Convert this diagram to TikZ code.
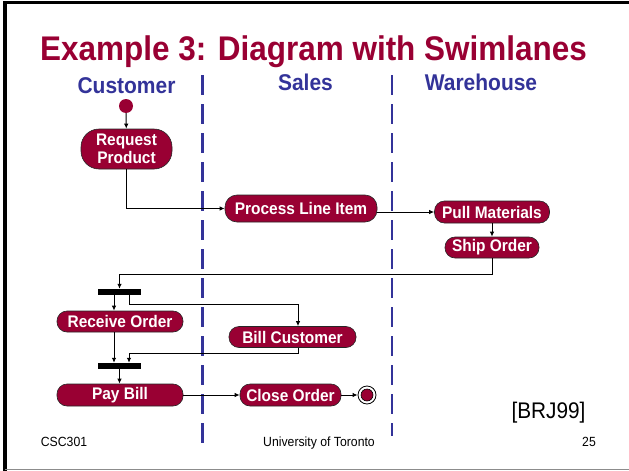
\documentclass[tikz,border=0pt]{standalone}
\usepackage{fontspec}
\setmainfont[FakeStretch=0.92]{Liberation Sans}
\usetikzlibrary{arrows.meta}
\definecolor{slidered}{RGB}{153,0,51}
\definecolor{laneblue}{RGB}{51,51,153}
\tikzset{
  activity/.style={draw=black!85, line width=.6pt, fill=slidered, text=white,
    font=\fontsize{16.8}{18}\selectfont\bfseries, inner sep=0pt,
    rounded corners=10pt, minimum height=22pt},
  syncbar/.style={fill=black, minimum width=43pt, minimum height=6pt, inner sep=0pt},
  flow/.style={line width=1pt, -{Latex[length=5pt,width=4.5pt]}},
  lane/.style={laneblue, line width=2.6pt, dash pattern=on 20pt off 9pt},
  lanehead/.style={laneblue, anchor=base, font=\fontsize{22.8}{24}\selectfont\bfseries},
  footer/.style={anchor=base, font=\fontsize{13.3}{14}\selectfont},
}
\begin{document}
\begin{tikzpicture}[x=1pt,y=-1pt]
\useasboundingbox (0,0) rectangle (629,471);
% slide frame
\draw[line width=3.5pt] (5,471) -- (5,2.5) -- (629,2.5);
\draw[black!45, line width=1.5pt] (5,469.5) -- (629,469.5);
%
\node[slidered, anchor=base, font=\fontsize{34.2}{36}\selectfont\bfseries] (title) at (313.5,60) {Example 3: Diagram with Swimlanes};
\node[lanehead] (customer) at (126.5,93) {Customer};
\node[lanehead] (sales) at (305.5,90) {Sales};
\node[lanehead] (warehouse) at (481,90) {Warehouse};
%
% swimlane borders
\draw[lane] (202.5,75) -- (202.5,443);
\draw[lane] (392,75) -- (392,436);
%
\node[circle, fill=slidered, minimum size=14pt, inner sep=0pt] (start) at (126,106) {};
\node[activity, align=center, minimum width=91pt, minimum height=40pt, rounded corners=18pt] (request) at (126.5,149) {Request\\Product};
\node[activity, minimum width=152pt, minimum height=27pt, rounded corners=12pt] (process) at (301,208.5) {Process Line Item};
\node[activity, minimum width=115pt] (pull) at (492,212) {Pull Materials};
\node[activity, minimum width=94pt, minimum height=21pt] (ship) at (492,247.5) {Ship Order};
%
\node[syncbar] (fork) at (119.5,292) {};
\node[activity, minimum width=126pt, minimum height=21pt] (receive) at (120,321.5) {Receive Order};
\node[activity, minimum width=127pt, minimum height=21pt] (bill) at (292.5,337) {Bill Customer};
\node[syncbar] (join) at (119.5,366) {};
\node[activity, minimum width=126pt] (pay) at (120,395) {Pay Bill};
\node[activity, minimum width=101pt] (close) at (290.5,395) {Close Order};
\node[circle, draw, line width=.8pt, minimum size=18pt, inner sep=0pt] (finish) at (367,395) {};
\node[circle, draw, fill=slidered, line width=.6pt, minimum size=12pt, inner sep=0pt] (finishdot) at (finish) {};
%
\draw[flow] (start) -- (request);
\draw[flow] (request.south) |- (process.west);
\draw[flow] (process.east |- pull.west) -- (pull.west);
\draw[flow] (pull) -- (ship);
\draw[flow] (ship.south) -- ++(0,16) -| (fork.north);
\draw[flow] ([xshift=-5.5pt]fork.south) -- ([xshift=-6pt]receive.north);
\draw[flow] ([xshift=9.5pt]fork.south) -- ++(0,9) -| ([xshift=5.5pt]bill.north);
\draw[flow] ([xshift=-6pt]receive.south) -- ([xshift=-5.5pt]join.north);
\draw[flow] ([xshift=5.5pt]bill.south) -- ++(0,6) -| ([xshift=9.5pt]join.north);
\draw[flow] (join.south) -- (join.south |- pay.north);
\draw[flow] (pay.east) -- (close.west);
\draw[flow] (close.east) -- (finish);
%
\node[anchor=base, font=\fontsize{22.6}{24}\selectfont] (brj) at (548.5,418) {[BRJ99]};
\node[footer] (course) at (64,446) {CSC301};
\node[footer] (univ) at (319,446) {University of Toronto};
\node[footer] (page) at (589,446) {25};
\end{tikzpicture}
\end{document}
